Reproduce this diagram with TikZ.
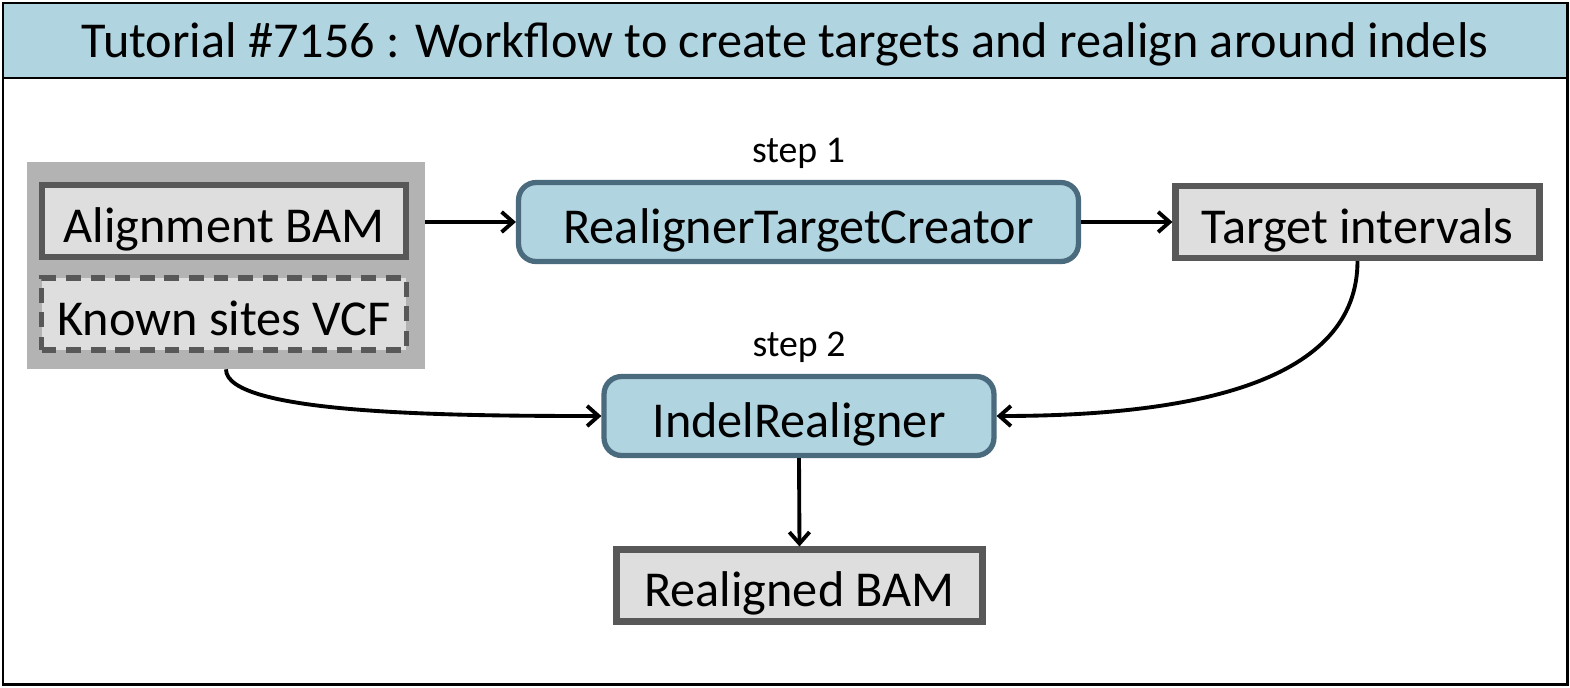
\documentclass[tikz,border=0pt]{standalone}
\usepackage{fontspec}
\setmainfont{Carlito}
\usetikzlibrary{arrows.meta}
\usetikzlibrary{positioning}

\definecolor{headblue}{HTML}{B1D5E0}
\definecolor{toolline}{HTML}{4A6B7E}
\definecolor{filebg}{HTML}{DEDEDE}
\definecolor{fileline}{HTML}{585858}
\definecolor{groupbg}{HTML}{B3B3B3}

\tikzset{
	filebox/.style={draw=fileline, fill=filebg, line width=3.5pt, inner sep=0pt,
		minimum height=1.44cm, text height=24pt, text depth=0pt,
		font=\fontsize{28.6}{32}\selectfont},
	toolbox/.style={draw=toolline, fill=headblue, line width=3pt, inner sep=0pt,
		rounded corners=10pt, minimum height=1.58cm, text height=24pt, text depth=0pt,
		font=\fontsize{28.6}{32}\selectfont},
	steplabel/.style={inner sep=0pt, font=\fontsize{21.5}{24}\selectfont},
	flow/.style={-{Straight Barb[length=6.5pt,width=11.5pt]}, line width=2.2pt},
}

\begin{document}
\begin{tikzpicture}[x=0.02cm, y=-0.02cm]
		\useasboundingbox (0,0) rectangle (1570,687);
		% frame and title
		\draw[line width=1.7pt, fill=white] (3,3) rectangle (1567,684);
		\draw[line width=1.7pt, fill=headblue] (3,3) rectangle (1567,78);
		\node (title) at (785,44) {\fontsize{28.6}{32}\selectfont Tutorial \#7156 : Workflow to create targets and realign around indels};
		
		% inputs
		\node[fill=groupbg, minimum width=7.96cm, minimum height=4.14cm] (inputs) at (226,265.5) {};
		\node[filebox, minimum width=7.28cm] (align) at (224,221) {Alignment BAM};
		\node[filebox, minimum width=7.3cm, line width=3pt, dash pattern=on 8.5pt off 5.5pt] (known) at (224,314) {Known sites VCF};
		
		% tools
		\node[toolbox, minimum width=11.2cm] (rtc) at (798.5,222) {RealignerTargetCreator};
		\node[steplabel, above=6pt of rtc] (step1) {step 1};
		\node[filebox, minimum width=7.28cm] (targets) at (1357.5,222) {Target intervals};
		\node[toolbox, minimum width=7.8cm] (indel) at (799,416) {IndelRealigner};
		\node[steplabel, above=6pt of indel] (step2) {step 2};
		\node[filebox, minimum width=7.32cm] (realigned) at (799.5,585.5) {Realigned BAM};
		
		% connectors
		\draw[flow] (inputs.east |- rtc.west) -- (rtc.west);
		\draw[flow] (rtc.east) -- (targets.west);
		\draw[flow] (targets.south) .. controls +(0,120) and +(200,0) .. (indel.east);
		\draw[flow] (inputs.south) .. controls +(0,45) and +(-150,0) .. (indel.west);
		\draw[flow] (indel.south) -- (realigned.north);
	\end{tikzpicture}
\end{document}
